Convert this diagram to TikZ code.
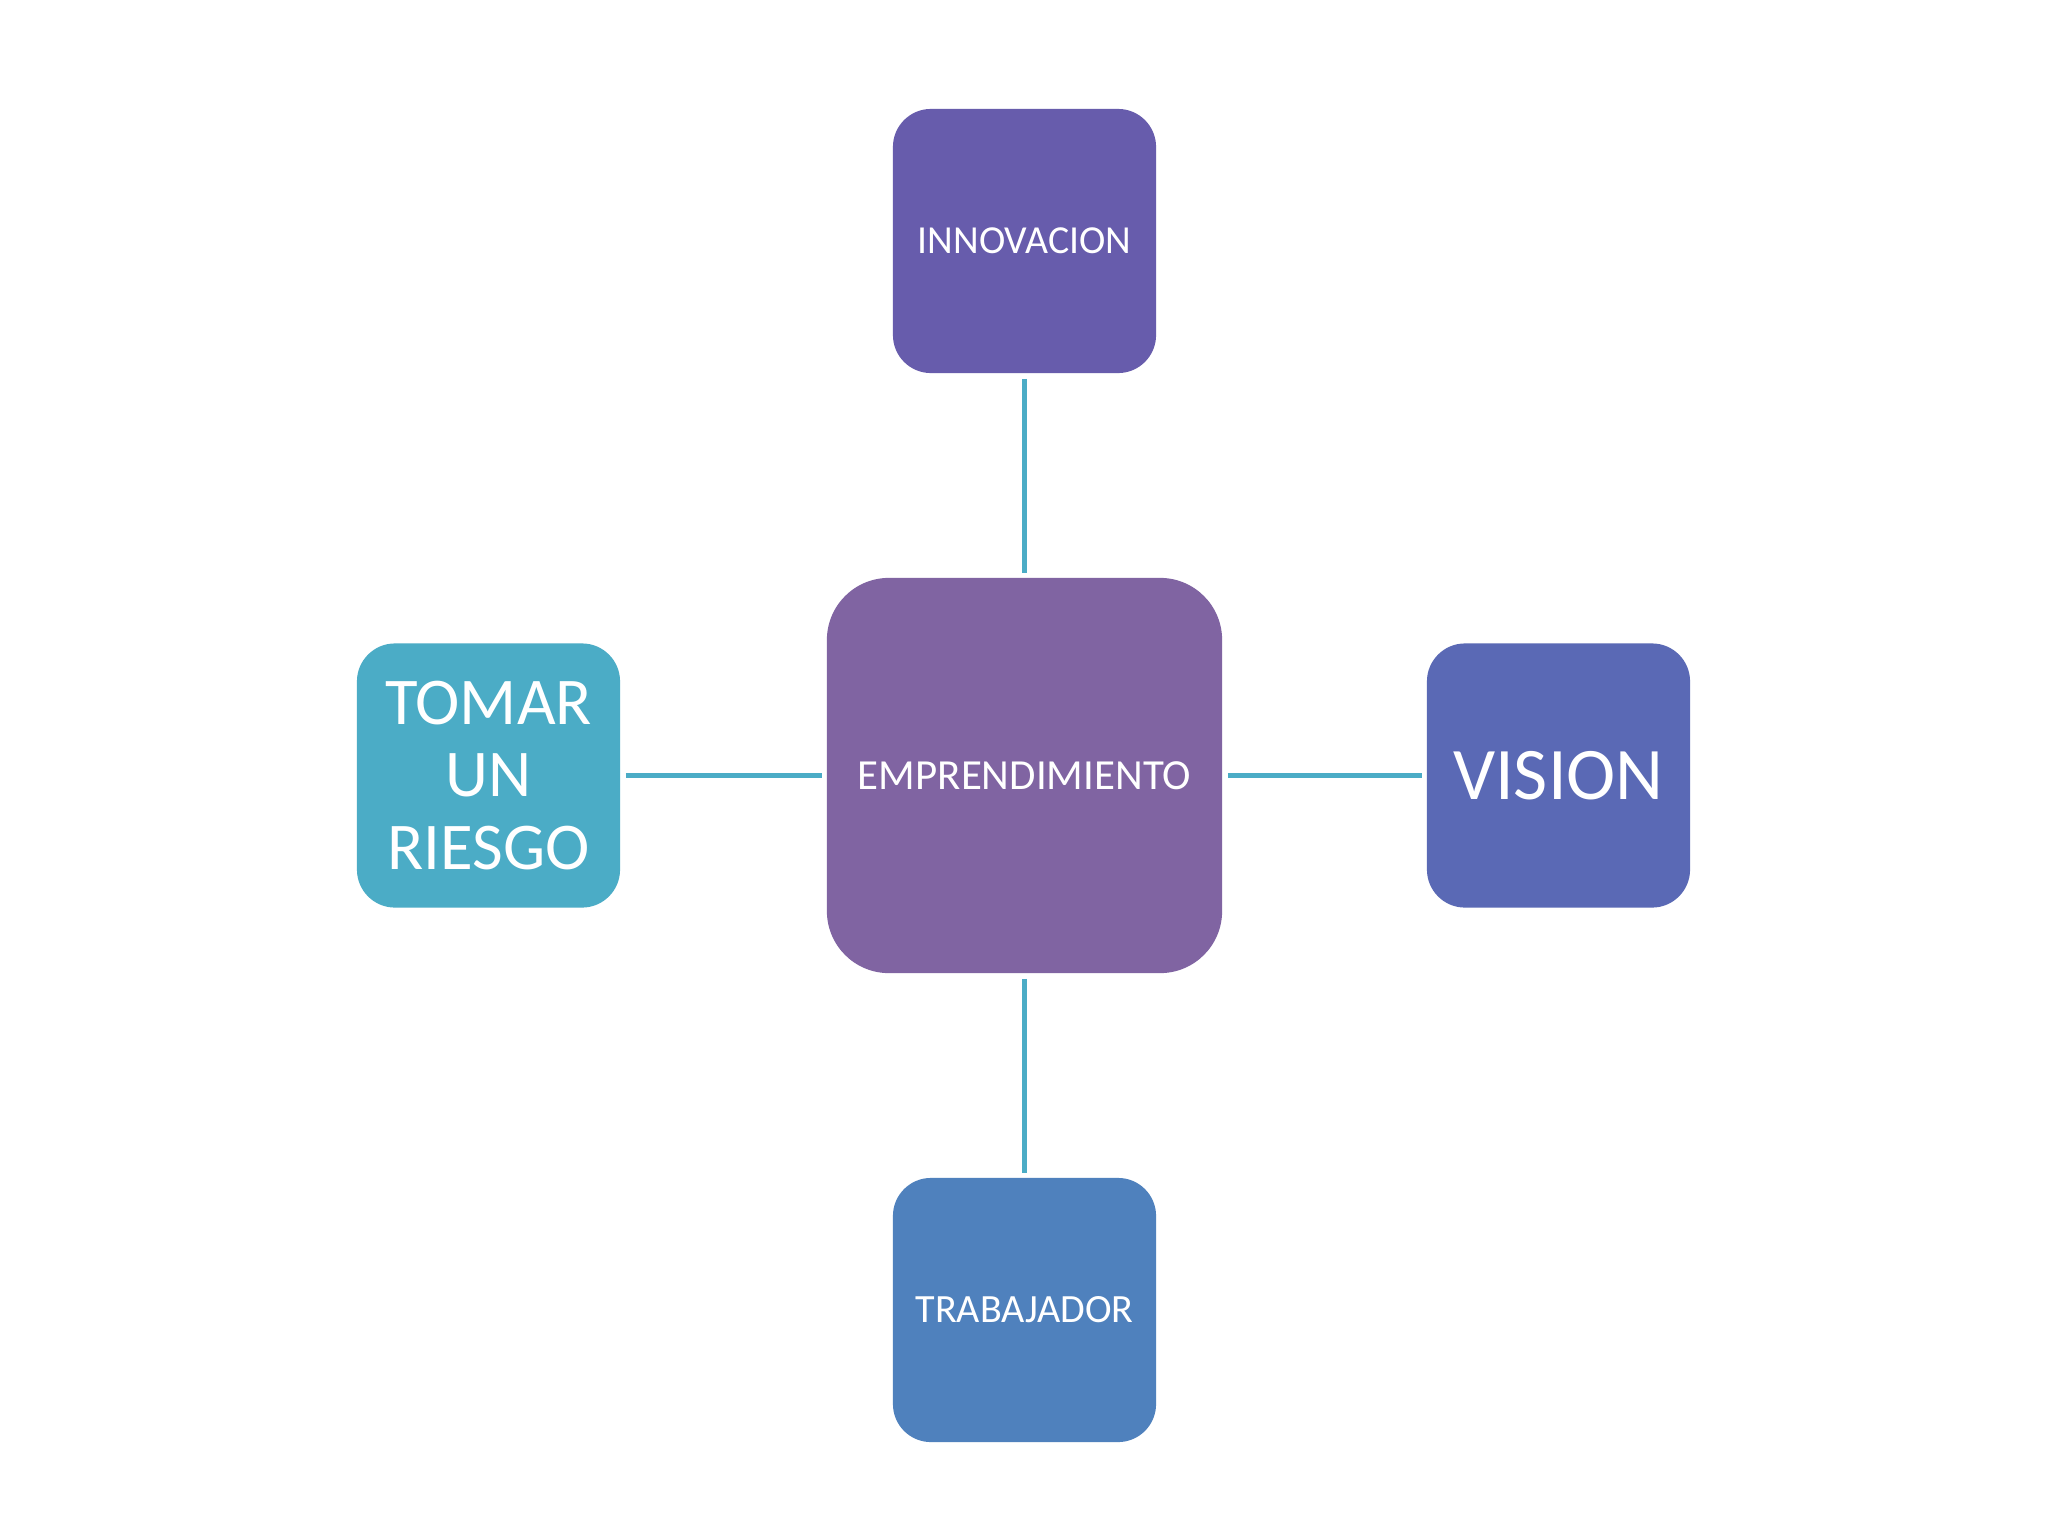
\documentclass[tikz,border=0pt]{standalone}
\usepackage{fontspec}
\setmainfont{Carlito}
\definecolor{cInnov}{HTML}{675CAC}
\definecolor{cCenter}{HTML}{8064A2}
\definecolor{cRiesgo}{HTML}{4BACC6}
\definecolor{cVision}{HTML}{5A69B5}
\definecolor{cTrab}{HTML}{4F81BD}
\definecolor{cLink}{HTML}{4BACC6}
\tikzset{
  smallbox/.style={rounded corners=0.38cm, minimum width=2.63cm, minimum height=2.64cm, inner sep=0pt, text=white, align=center},
  bigbox/.style={rounded corners=0.62cm, minimum width=3.95cm, minimum height=3.95cm, inner sep=0pt, text=white, align=center},
  link/.style={draw=cLink, line width=1.4pt, shorten <=0.05cm, shorten >=0.04cm}
}
\begin{document}
\begin{tikzpicture}[x=0.01cm,y=-0.01cm]
\useasboundingbox (0,0) rectangle (2048,1536);
\fill[white] (0,0) rectangle (2048,1536);
\node[bigbox, fill=cCenter, font=\fontsize{12.2}{14}\selectfont] (center) at (1024.5,775.5) {EMPRENDIMIENTO};
\node[smallbox, fill=cInnov, font=\fontsize{11.3}{13}\selectfont] (innov) at (1024.5,241) {INNOVACION};
\node[smallbox, fill=cTrab, font=\fontsize{11.4}{13}\selectfont] (trab) at (1024.5,1310) {TRABAJADOR};
\node[smallbox, fill=cRiesgo, font=\fontsize{19}{20.5}\selectfont] (riesgo) at (488.5,775.5) {TOMAR\\UN\\RIESGO};
\node[smallbox, fill=cVision, font=\fontsize{21.1}{24}\selectfont] (vision) at (1558.5,775.5) {VISION};
\draw[link] (innov) -- (center);
\draw[link] (center) -- (trab);
\draw[link] (riesgo) -- (center);
\draw[link] (center) -- (vision);
\end{tikzpicture}
\end{document}
